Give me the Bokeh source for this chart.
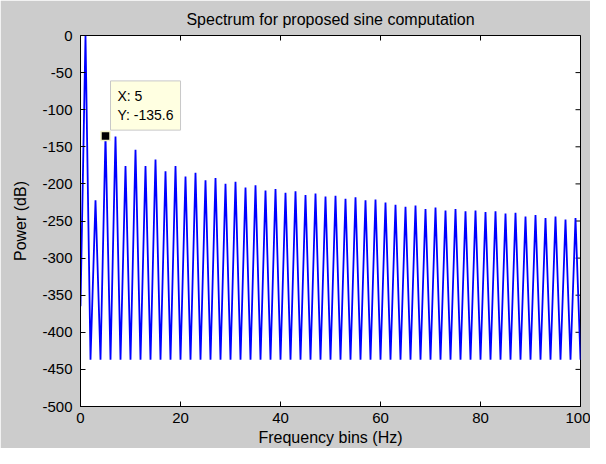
import math
from bokeh.plotting import figure
from bokeh.models import Range1d, FixedTicker, Label, ColumnDataSource
from bokeh.embed import file_html
from bokeh.resources import INLINE

# ---- texts ----
title_text = "Spectrum for proposed sine computation"
x_label = "Frequency bins (Hz)"
y_label = "Power (dB)"

# ---- ticks ----
x_ticks = [0, 20, 40, 60, 80, 100]
x_tick_labels = ["0", "20", "40", "60", "80", "100"]
y_ticks = [0, -50, -100, -150, -200, -250, -300, -350, -400, -450, -500]
y_tick_labels = ["0", "-50", "-100", "-150", "-200", "-250", "-300",
                 "-350", "-400", "-450", "-500"]

# ---- data ----
# power at odd frequency bins 1, 3, 5, ..., 99
odd_bin_power = [
    0, -222, -135.6, -136, -176, -154, -176, -167, -183, -176,
    -190, -185, -195, -192, -200, -197, -205, -202, -209, -207,
    -212, -210, -215, -213, -217, -216, -220, -218, -222, -221,
    -225, -228, -231, -229, -234, -232, -236, -234, -237, -236,
    -238, -237, -240, -239, -244, -242, -246, -244, -248, -246,
]
# power at even frequency bins 0, 2, 4, ..., 100
even_bin_power = [
    -365,
    -437, -437, -437, -437, -437, -437, -437, -437, -437, -437,
    -437, -437, -437, -437, -437, -437, -437, -437, -437, -437,
    -437, -437, -437, -437, -437, -437, -437, -437, -437, -437,
    -437, -437, -437, -437, -437, -437, -437, -437, -437, -437,
    -437, -437, -437, -437, -437, -437, -437, -437, -437, -437,
]

# data tip
tip_x = [5]
tip_y = [-135.6]
tip_text = "X: 5\nY: -135.6"

bins = list(range(len(odd_bin_power) + len(even_bin_power)))
power = [even_bin_power[b // 2] if b % 2 == 0 else odd_bin_power[b // 2] for b in bins]
src = ColumnDataSource(data=dict(bin=bins, power=power))

FONT = "Liberation Sans"
GRAY = "#cccccc"

x_range = Range1d(0, 100)
y_range = Range1d(-500, 0)

p = figure(width=590, height=448,
           x_range=x_range, y_range=y_range,
           output_backend="svg", toolbar_location=None,
           title=title_text,
           min_border_left=80, min_border_right=10,
           min_border_top=0, min_border_bottom=41,
           background_fill_color="white", border_fill_color=GRAY,
           outline_line_color="black", outline_line_width=1)

p.title.align = "center"
p.title.vertical_align = "bottom"
p.title.text_font = FONT
p.title.text_font_size = "16px"
p.title.text_font_style = "normal"
p.title.text_color = "black"
p.title.standoff = 16

p.xgrid.visible = False
p.ygrid.visible = False


def style_axis(ax, ticks, labels):
    ax.ticker = FixedTicker(ticks=ticks)
    ax.major_label_overrides = {t: l for t, l in zip(ticks, labels)}
    ax.major_tick_in = 5
    ax.major_tick_out = 0
    ax.minor_tick_in = 0
    ax.minor_tick_out = 0
    ax.axis_line_color = "black"
    ax.major_tick_line_color = "black"
    ax.major_label_text_font = FONT
    ax.major_label_text_font_size = "15px"
    ax.major_label_text_color = "black"
    ax.axis_label_text_font = FONT
    ax.axis_label_text_font_size = "16px"
    ax.axis_label_text_font_style = "normal"
    ax.axis_label_text_color = "black"


style_axis(p.xaxis[0], x_ticks, x_tick_labels)
p.xaxis[0].axis_label = x_label
p.xaxis[0].major_label_standoff = 6
p.xaxis[0].axis_label_standoff = 3

style_axis(p.yaxis[0], y_ticks, y_tick_labels)
p.yaxis[0].axis_label = y_label
p.yaxis[0].major_label_standoff = 8
p.yaxis[0].axis_label_standoff = 10

# inward tick marks on the top and right edges (clipped to the frame)
p.scatter(x=x_ticks, y=[y_range.end] * len(x_ticks), marker="dash",
          angle=math.pi / 2, size=10, line_color="black", line_width=1)
p.scatter(x=[x_range.end] * len(y_ticks), y=y_ticks, marker="dash",
          size=10, line_color="black", line_width=1)

p.line("bin", "power", source=src, line_color="#0000ff", line_width=1.8)

# data tip marker and box
p.scatter(x=tip_x, y=tip_y, marker="square", size=9, fill_color="black",
          line_color="#f4f4c8", line_width=1.5)
tip = Label(x=tip_x[0], y=tip_y[0], x_offset=5, y_offset=6, text=tip_text,
            text_font=FONT, text_font_size="14px", text_color="black",
            text_align="left", text_baseline="bottom", text_line_height=1.2,
            background_fill_color="#ffffe1", background_fill_alpha=1.0,
            border_line_color="#c8c8c8", border_line_width=1, padding=7)
p.add_layout(tip)

open("out.html", "w").write(file_html(p, INLINE))
